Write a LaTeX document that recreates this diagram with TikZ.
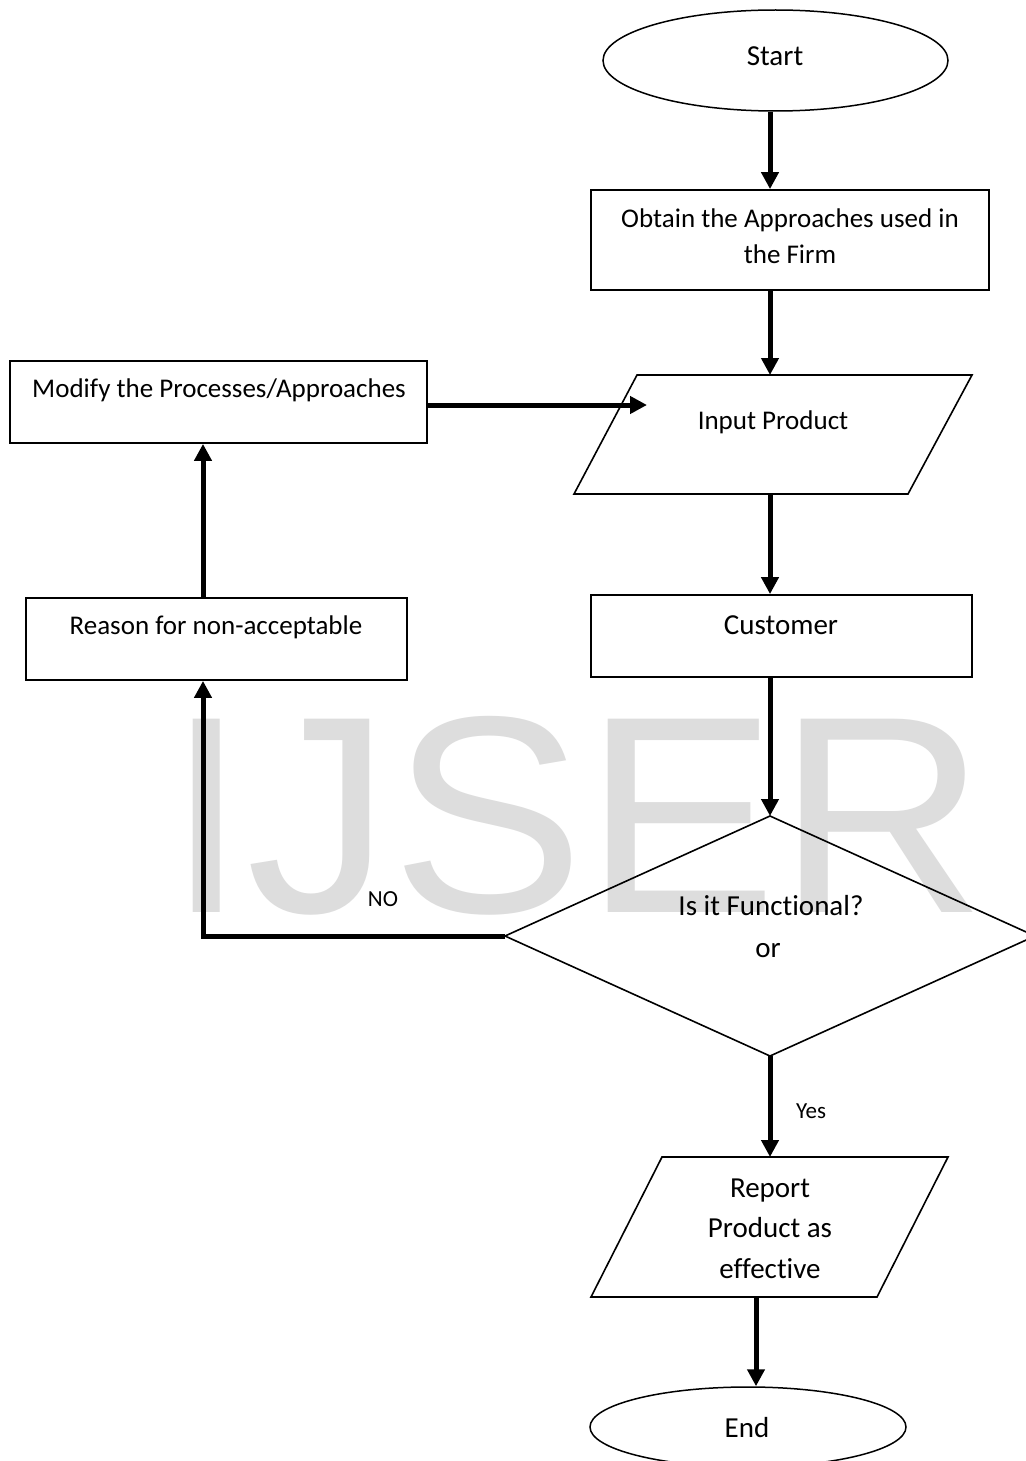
\documentclass[tikz,border=0pt]{standalone}
\usepackage{fontspec}
\setmainfont{Carlito}[Ligatures=NoCommon]
\newfontfamily\wmfont{Liberation Sans}
\usetikzlibrary{arrows.meta,shapes.geometric}
\definecolor{wm}{RGB}{221,221,221}
\begin{document}
\begin{tikzpicture}[x=1pt,y=-1pt,
  box/.style={draw,line width=1.8pt,inner sep=0pt},
  shapeline/.style={line width=1.6pt,line join=miter},
  conn/.style={line width=5pt,-{Triangle[length=17pt,width=17pt]}},
  txt/.style={font=\fontsize{27}{32}\selectfont,inner sep=0pt,anchor=base},
  bigtxt/.style={font=\fontsize{29}{34}\selectfont,inner sep=0pt,anchor=base},
  small/.style={font=\fontsize{23}{28}\selectfont,inner sep=0pt,anchor=base}]
\useasboundingbox (0,0) rectangle (1025,1461);
\fill[white] (0,0) rectangle (1025,1461);
% watermark
\node[anchor=base west,text=wm,inner sep=0pt,xscale=1.03,font=\wmfont\fontsize{281}{281}\selectfont] (wmark) at (166,912) {IJSER};

% shapes
\node[box,ellipse,line width=1.5pt,minimum width=345pt,minimum height=101pt] (start) at (775.5,60.5) {};
\node[bigtxt] (starttxt) at (775,66) {Start};

\node[box,minimum width=398pt,minimum height=100pt] (obtain) at (790,240) {};
\node[txt] (ob1) at (790,227) {Obtain the Approaches used in};
\node[txt] (ob2) at (790,263) {the Firm};

\coordinate (inTL) at (637,375);
\coordinate (inTR) at (972,375);
\coordinate (inBR) at (908,494);
\coordinate (inBL) at (574,494);
\draw[shapeline] (inTL) -- (inTR) -- (inBR) -- (inBL) -- cycle;
\coordinate (inTop) at (770,375);
\coordinate (inBot) at (770,494);
\coordinate (inLeft) at (647,405);
\node[txt] (intxt) at (773,429) {Input Product};

\node[box,minimum width=417pt,minimum height=82pt] (modify) at (218.5,402) {};
\node[txt] (modtxt) at (219,397) {Modify the Processes/Approaches};

\node[box,minimum width=381pt,minimum height=82pt] (cust) at (781.5,636) {};
\node[bigtxt] (custtxt) at (781,634) {Customer};

\node[box,minimum width=381pt,minimum height=82pt] (reason) at (216.5,639) {};
\node[txt] (reatxt) at (216,634) {Reason for non-acceptable};

\coordinate (dTop) at (770,816);
\coordinate (dLeft) at (505,936);
\coordinate (dBot) at (770,1056);
\coordinate (dRight) at (1035,936);
\draw[shapeline] (dTop) -- (dRight) -- (dBot) -- (dLeft) -- cycle;
\node[bigtxt] (q1) at (771,915) {Is it Functional?};
\node[bigtxt] (q2) at (768,957) {or};

\coordinate (rTL) at (662,1157);
\coordinate (rTR) at (948,1157);
\coordinate (rBR) at (877,1297);
\coordinate (rBL) at (591,1297);
\draw[shapeline] (rTL) -- (rTR) -- (rBR) -- (rBL) -- cycle;
\coordinate (rTop) at (770,1157);
\coordinate (rBot) at (756,1297);
\node[bigtxt] (rep1) at (770,1197) {Report};
\node[bigtxt] (rep2) at (770,1237) {Product as};
\node[bigtxt] (rep3) at (770,1278) {effective};

\node[box,ellipse,line width=1.5pt,minimum width=316pt,minimum height=80pt] (endn) at (748,1427) {};
\node[bigtxt] (endtxt) at (747,1437) {End};

% labels
\node[small] (nolab) at (383,906) {NO};
\node[small] (yeslab) at (811,1118) {Yes};

% connectors
\draw[conn] (start.south -| inTop) -- (obtain.north -| inTop);
\draw[conn] (obtain.south -| inTop) -- (inTop);
\draw[conn] (modify.east |- inLeft) -- (inLeft);
\draw[conn] (inBot) -- (cust.north -| inBot);
\draw[conn] (cust.south -| dTop) -- (dTop);
\coordinate (noCorner) at (203,936);
\draw[conn,line join=miter] (dLeft) -- (noCorner) -- (reason.south -| noCorner);
\draw[conn] (reason.north -| noCorner) -- (modify.south -| noCorner);
\draw[conn] (dBot) -- (rTop);
\draw[conn] (rBot) -- (endn.north -| rBot);
\end{tikzpicture}
\end{document}
